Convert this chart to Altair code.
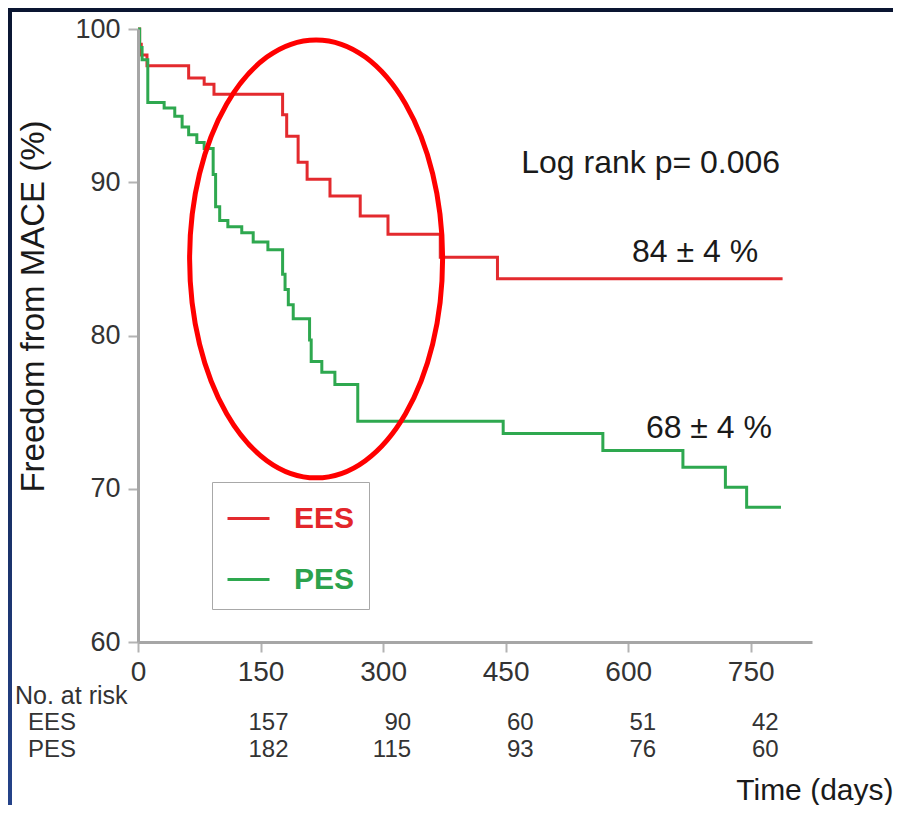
import altair as alt
import pandas as pd

# ---------------- data ----------------
ees_days = [0, 2, 4, 11, 62, 81, 93, 177, 182, 196, 207, 235, 272, 306, 370, 440, 789]
ees_surv = [100.0, 99.0, 98.3, 97.6, 96.8, 96.4, 95.75, 94.4, 93.0, 91.3, 90.2,
            89.1, 87.8, 86.6, 85.1, 83.7, 83.7]

pes_days = [0, 2, 5, 12, 32, 45, 54, 62, 72, 81, 92, 95, 100, 110, 127, 141, 159,
            177, 180, 184, 190, 210, 212, 225, 241, 269, 447, 569, 667, 719, 745, 787]
pes_surv = [100.0, 98.8, 98.0, 95.2, 94.85, 94.3, 93.6, 93.1, 92.6, 92.2, 90.5,
            88.4, 87.5, 87.1, 86.7, 86.1, 85.6, 84.0, 83.0, 82.0, 81.1, 79.7, 78.3,
            77.6, 76.8, 74.4, 73.6, 72.5, 71.4, 70.1, 68.8, 68.8]

groups = ["EES", "PES"]
line_colors = ["#e32a2e", "#2ea84f"]
label_colors = ["#e3262b", "#2ca24c"]

risk_days = [150, 300, 450, 600, 750]
ees_risk = [157, 90, 60, 51, 42]
pes_risk = [182, 115, 93, 76, 60]

x_ticks = [0, 150, 300, 450, 600, 750]
y_ticks = [60, 70, 80, 90, 100]

notes_text = ["Log rank p= 0.006", "84 ± 4 %", "68 ± 4 %"]
notes_day = [786, 759, 776]
notes_val = [90.6, 84.8, 73.3]

# highlighted region (ellipse centre, in data units)
ell_day = [218]
ell_val = [85.0]

FONT = "Liberation Sans"

# ---------------- tables ----------------
curves = pd.concat([
    pd.DataFrame({"day": ees_days, "surv": ees_surv, "group": "EES"}),
    pd.DataFrame({"day": pes_days, "surv": pes_surv, "group": "PES"}),
])
risk = pd.concat([
    pd.DataFrame({"day": risk_days, "n": ees_risk, "group": "EES"}),
    pd.DataFrame({"day": risk_days, "n": pes_risk, "group": "PES"}),
])
notes = pd.DataFrame({"text": notes_text, "day": notes_day, "surv": notes_val})
ell = pd.DataFrame({"day": ell_day, "surv": ell_val})
one = pd.DataFrame({"a": [0]})

xscale = alt.Scale(domain=[0, 825], nice=False, zero=False)
yscale = alt.Scale(domain=[60, 100], nice=False, zero=False)

xaxis = alt.Axis(values=x_ticks, title="Time (days)", grid=False, zindex=1,
                 tickSize=10, tickWidth=2, tickColor="#b3b3b3",
                 domainColor="#a6a6a6", domainWidth=3,
                 labelFontSize=28, labelColor="#333333", labelPadding=6,
                 labelFont=FONT, labelFlush=False,
                 titleFont=FONT, titleFontSize=30, titleFontWeight="normal",
                 titleColor="#1a1a1a", titleX=755, titleY=157,
                 titleAlign="right", titleBaseline="alphabetic")
yaxis = alt.Axis(values=y_ticks, title="Freedom from MACE (%)", grid=False, zindex=1,
                 tickSize=10, tickWidth=2, tickColor="#b3b3b3",
                 domainColor="#a6a6a6", domainWidth=3,
                 labelFontSize=27, labelColor="#333333", labelPadding=8,
                 labelFont=FONT, labelFlush=False,
                 titleFont=FONT, titleFontSize=33, titleFontWeight="normal",
                 titleColor="#1a1a1a", titleAngle=270, titleX=-95, titleY=277,
                 titleAlign="center", titleBaseline="alphabetic")

X = alt.X("day:Q", scale=xscale, axis=xaxis)
Y = alt.Y("surv:Q", scale=yscale, axis=yaxis)

# ---------------- background frame ----------------
frame = alt.Chart(one).mark_rect(
    color=alt.LinearGradient(
        gradient="linear", x1=0, x2=0, y1=0, y2=1,
        stops=[alt.GradientStop(color="#0a1531", offset=0),
               alt.GradientStop(color="#162c5f", offset=0.55),
               alt.GradientStop(color="#25438a", offset=1)])
).encode(x=alt.value(-130), x2=alt.value(755), y=alt.value(-21), y2=alt.value(781))

panel = alt.Chart(one).mark_rect(color="white").encode(
    x=alt.value(-126), x2=alt.value(755), y=alt.value(-17), y2=alt.value(781))

# ---------------- curves ----------------
lines = alt.Chart(curves).mark_line(interpolate="step-after", strokeWidth=3).encode(
    x=X, y=Y,
    color=alt.Color("group:N", scale=alt.Scale(domain=groups, range=line_colors),
                    title=None,
                    legend=alt.Legend(
                        orient="none", legendX=74, legendY=453,
                        symbolType="stroke", symbolSize=1764, symbolStrokeWidth=3,
                        labelFont=FONT, labelFontSize=30, labelFontWeight="bold",
                        labelColor=alt.ExprRef("datum.label == 'EES' ? '%s' : '%s'" % tuple(label_colors)),
                        labelOffset=23, padding=14, rowPadding=23,
                        strokeColor="#a8a8a8", fillColor="white")),
    detail="group:N",
)

# ---------------- highlight ellipse ----------------
ratio = 126.5 / 219.0
ellipse_path = ("M %.4f 0 A %.4f 1 0 1 0 %.4f 0 A %.4f 1 0 1 0 %.4f 0 Z"
                % (-ratio, ratio, ratio, ratio, -ratio))
ellipse = alt.Chart(ell).mark_point(
    shape=ellipse_path, size=438 * 438, filled=False, stroke="#ff0000",
    strokeWidth=5, opacity=1
).encode(x=X, y=Y)

# ---------------- annotations ----------------
notes_layer = alt.Chart(notes).mark_text(
    align="right", baseline="alphabetic", font=FONT, fontSize=32, color="#1a1a1a"
).encode(x=X, y=Y, text="text:N")

# ---------------- number at risk ----------------
RFS = 24
risk_ees = alt.Chart(risk).transform_filter(alt.datum.group == "EES").mark_text(
    align="right", baseline="alphabetic", dx=28, font=FONT, fontSize=RFS, color="#333333"
).encode(x=X, y=alt.value(701), text="n:Q")
risk_pes = alt.Chart(risk).transform_filter(alt.datum.group == "PES").mark_text(
    align="right", baseline="alphabetic", dx=28, font=FONT, fontSize=RFS, color="#333333"
).encode(x=X, y=alt.value(728), text="n:Q")

risk_head = alt.Chart(one).mark_text(
    align="left", baseline="alphabetic", font=FONT, fontSize=25, color="#333333",
    text="No. at risk").encode(x=alt.value(-123), y=alt.value(675))
risk_lab_e = alt.Chart(one).mark_text(
    align="left", baseline="alphabetic", font=FONT, fontSize=RFS, color="#333333",
    text="EES").encode(x=alt.value(-110), y=alt.value(701))
risk_lab_p = alt.Chart(one).mark_text(
    align="left", baseline="alphabetic", font=FONT, fontSize=RFS, color="#333333",
    text="PES").encode(x=alt.value(-110), y=alt.value(728))

chart = alt.layer(
    frame, panel, lines, ellipse, notes_layer,
    risk_ees, risk_pes, risk_head, risk_lab_e, risk_lab_p
).properties(
    width=674, height=613,
    padding={"left": 130, "top": 21, "right": 81, "bottom": 163},
    autosize=alt.AutoSizeParams(type="none"),
).configure_view(stroke=None).configure_legend(strokeWidth=3).configure(font=FONT)

chart.save("out.html", embed_options={"renderer": "svg", "actions": False})
